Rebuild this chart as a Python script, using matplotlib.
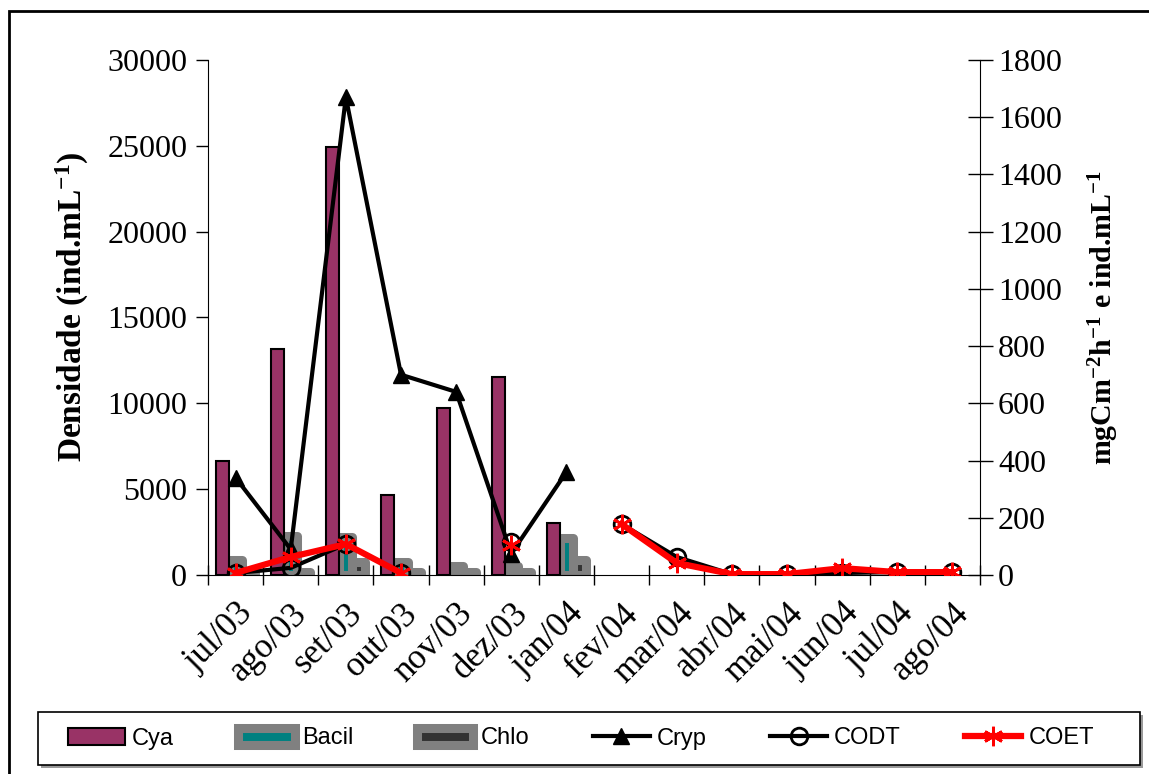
import numpy as np
import matplotlib
matplotlib.use("Agg")
import matplotlib.pyplot as plt
from matplotlib.patches import Rectangle

plt.rcParams["font.family"] = ["Liberation Serif", "DejaVu Serif"]
plt.rcParams["mathtext.fontset"] = "custom"
plt.rcParams["mathtext.rm"] = "Liberation Serif:bold"
plt.rcParams["mathtext.default"] = "rm"

nan = np.nan
months = ["jul/03", "ago/03", "set/03", "out/03", "nov/03", "dez/03", "jan/04",
          "fev/04", "mar/04", "abr/04", "mai/04", "jun/04", "jul/04", "ago/04"]
# densities (ind/mL), left axis
cya = [6640, 13160, 24930, 4660, 9730, 11530, 3030, nan, nan, nan, nan, nan, nan, nan]
bacil = [900, 2300, 2200, 730, 550, 550, 2130, nan, nan, nan, nan, nan, nan, nan]
chlo = [150, 150, 750, 150, 150, 150, 900, nan, nan, nan, nan, nan, nan, nan]
# right axis
cryp = [340, 90, 1670, 700, 640, 75, 360, nan, nan, nan, nan, nan, nan, nan]
codt = [7, 25, 108, 7, nan, 115, nan, 178, 63, 3, 3, 7, 10, 10]
coet = [7, 63, 108, 7, nan, 105, nan, 178, 42, 3, 3, 24, 10, 10]

W, H = 1149, 774
fig = plt.figure(figsize=(W / 100, H / 100), dpi=100)
ax = fig.add_axes([208 / W, 1 - 575 / H, (980 - 208) / W, (575 - 60) / H])
ax2 = ax.twinx()

x = np.arange(len(months))
bw = 0.236
b1 = ax.bar(x - bw, cya, bw, color="#993366", edgecolor="black", linewidth=1.5,
            label="Cya", zorder=3)
b2 = ax.bar(x, bacil, bw, color="#008080", edgecolor="#808080", linewidth=6.5,
            joinstyle="round", label="Bacil", zorder=2)
b3 = ax.bar(x + bw, chlo, bw, color="#333333", edgecolor="#808080", linewidth=6.5,
            joinstyle="round", label="Chlo", zorder=1)

l1, = ax2.plot(x, cryp, color="black", lw=3, marker="^", ms=11, label="Cryp")
l2, = ax2.plot(x, codt, color="black", lw=3, marker="o", ms=12, mfc="none",
               mec="black", mew=2, label="CODT")
l3, = ax2.plot(x, coet, color="red", lw=4.5, marker=(6, 2, 0), ms=14,
               mec="red", mew=2, label="COET")

ax.set_xlim(-0.5, len(months) - 0.5)
ax.set_ylim(0, 30000)
ax2.set_ylim(0, 1800)
ax.set_yticks(np.arange(0, 30001, 5000))
ax2.set_yticks(np.arange(0, 1801, 200))

ax.set_xticks(x)
ax.set_xticklabels(months, rotation=45, ha="right", rotation_mode="anchor")
ax.set_xticks(np.arange(-0.5, len(months), 1), minor=True)
ax.tick_params(axis="x", which="major", length=0, labelsize=25, pad=16)
ax.tick_params(axis="x", which="minor", length=14, direction="inout", width=1)
ax.tick_params(axis="y", labelsize=23, length=9, width=1, direction="out", pad=6)
ax2.tick_params(axis="y", labelsize=23, length=18, width=1, direction="inout", pad=4)

for a in (ax, ax2):
    a.spines["top"].set_visible(False)
ax2.spines["left"].set_visible(False)
ax2.spines["bottom"].set_visible(False)
ax.spines["right"].set_visible(False)

ax.set_ylabel(r"Densidade (ind.mL$^{-1}$)", fontsize=24, fontweight="bold")
ax.yaxis.set_label_coords(-0.152, 0.52)
ax2.set_ylabel(r"mgCm$^{-2}$h$^{-1}$ e ind.mL$^{-1}$", fontsize=21.5,
               fontweight="bold", labelpad=18)

# legend box with a soft shadow
fig.patches.append(Rectangle((41 / W, 1 - 768 / H), (1140 - 38) / W, 53 / H,
                             transform=fig.transFigure, facecolor="#999999",
                             edgecolor="none"))
fig.patches.append(Rectangle((38 / W, 1 - 765 / H), (1140 - 38) / W, 53 / H,
                             transform=fig.transFigure, facecolor="white",
                             edgecolor="black", linewidth=1.2))
fig.legend([b1, b2, b3, l1, l2, l3], ["Cya", "Bacil", "Chlo", "Cryp", "CODT", "COET"],
           loc="center left", ncol=6, bbox_to_anchor=(59 / W, 1 - 738.5 / H),
           prop={"family": "Liberation Sans", "size": 17}, handlelength=2.4,
           handletextpad=0.3, columnspacing=2.7, frameon=False, borderaxespad=0)

fig.patches.append(Rectangle((9 / W, -0.05), 1.1, 1 - 11 / H + 0.05,
                             transform=fig.transFigure, fill=False,
                             edgecolor="black", linewidth=2))

fig.savefig("out.png", dpi=100)
